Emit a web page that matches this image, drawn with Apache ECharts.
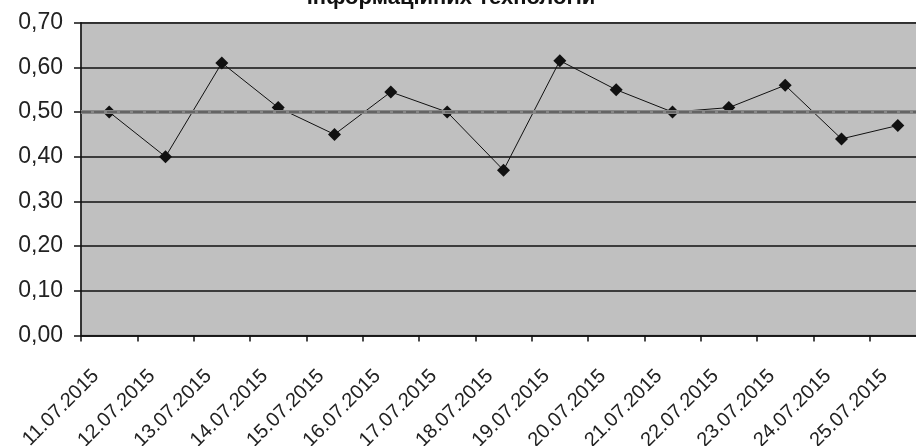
<!DOCTYPE html>
<html>
<head>
<meta charset="utf-8">
<script src="https://cdn.jsdelivr.net/npm/echarts@6/dist/echarts.min.js"></script>
<style>
  html, body { margin: 0; padding: 0; background: #fff; }
  #chart { width: 916px; height: 446px; }
</style>
</head>
<body>
<div id="chart"></div>
<script>
// Daily index values, 11–25 July 2015
const dates = ['11.07.2015', '12.07.2015', '13.07.2015', '14.07.2015', '15.07.2015',
               '16.07.2015', '17.07.2015', '18.07.2015', '19.07.2015', '20.07.2015',
               '21.07.2015', '22.07.2015', '23.07.2015', '24.07.2015', '25.07.2015'];
const values = [0.50, 0.40, 0.61, 0.51, 0.45, 0.545, 0.50, 0.37, 0.615, 0.55, 0.50, 0.51, 0.56, 0.44, 0.47];
const referenceLevel = 0.50;
const yTicks = { min: 0, max: 0.7, interval: 0.1 };
const titleText = 'інформаційних технологій';

const chart = echarts.init(document.getElementById('chart'));
chart.setOption({
  animation: false,
  backgroundColor: '#ffffff',
  title: {
    text: titleText,
    left: 446,
    textAlign: 'center',
    top: -18,
    textStyle: { fontFamily: 'Liberation Sans, Arial', fontWeight: 'bold', fontSize: 22, color: '#111' }
  },
  grid: {
    left: 81, top: 22.7, width: 845, height: 312.8,
    outerBoundsMode: 'none',
    containLabel: false,
    show: true, backgroundColor: '#c0c0c0', borderColor: '#8a8a8a', borderWidth: 1.5
  },
  xAxis: {
    type: 'category',
    data: dates,
    boundaryGap: true,
    axisLine: { lineStyle: { color: '#111', width: 1.5 } },
    axisTick: { show: true, length: 6, lineStyle: { color: '#111', width: 1.5 } },
    axisLabel: {
      rotate: 45, interval: 0, margin: 24,
      padding: [0, 19, 0, 0],
      fontFamily: 'Liberation Sans, Arial', fontSize: 20, color: '#222'
    }
  },
  yAxis: {
    type: 'value',
    min: yTicks.min, max: yTicks.max, interval: yTicks.interval,
    axisLine: { show: true, lineStyle: { color: '#111', width: 1.5 } },
    axisTick: { show: true, length: 7, lineStyle: { color: '#111', width: 1.5 } },
    splitLine: { show: true, lineStyle: { color: '#111', width: 1.5 } },
    axisLabel: {
      margin: 18,
      fontFamily: 'Liberation Sans, Arial', fontSize: 23, color: '#222',
      formatter: v => v.toFixed(2).replace('.', ',')
    }
  },
  series: [{
    type: 'line',
    data: values,
    symbol: 'diamond',
    symbolSize: 13,
    itemStyle: { color: '#111' },
    lineStyle: { color: '#111', width: 1 },
    markLine: {
      silent: true,
      symbol: 'none',
      label: { show: false },
      data: [
        { yAxis: referenceLevel, lineStyle: { color: '#878787', width: 4, type: 'solid' } },
        { yAxis: referenceLevel, lineStyle: { color: '#5a5a5a', width: 1.5, type: [10, 3] } }
      ]
    },
    z: 3
  }]
});
</script>
</body>
</html>
